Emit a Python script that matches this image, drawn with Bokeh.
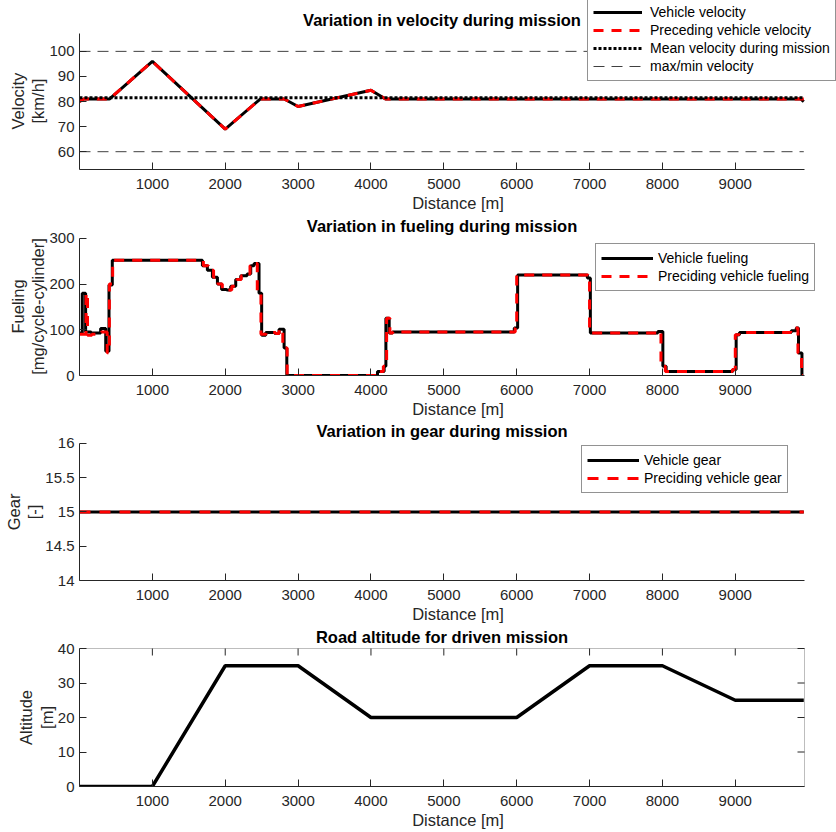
import math

from bokeh.plotting import figure
from bokeh.layouts import column
from bokeh.models import (Legend, LegendItem, FixedTicker, Range1d, Label,
                          BoxAnnotation)
from bokeh.embed import file_html
from bokeh.resources import INLINE

# ---------------- data ----------------
mission_end = 9940
x_max = 9950

# velocity profile [km/h] over distance [m]
vel_dist = [0, 60, 410, 1000, 2000, 2480, 2810, 3000, 4000, 4200, 9900, 9940]
vel_vehicle = [80, 81, 81, 96, 69, 81, 81, 78, 84.5, 81, 81, 80]
vel_preceding = [80, 81, 81, 96, 69, 81, 81, 78, 84.5, 81, 81, 81]
vel_mean = 81.5
vel_max = 100
vel_min = 60

# fueling [mg/cycle-cylinder], held from each breakpoint to the next
fuel_dist = [0, 38, 84, 160, 290, 360, 405, 450, 1687, 1755, 1824, 1893, 1950,
             2020, 2075, 2144, 2213, 2300, 2350, 2396, 2464, 2500, 2556, 2680,
             2739, 2808, 2845, 4090, 4181, 4205, 4250, 4296, 5967, 6013, 6970,
             7011, 7937, 8006, 8051, 8967, 9012, 9058, 9768, 9837, 9868, 9915,
             9930]
fuel_vehicle = [93, 180, 95, 93, 103, 53, 198, 252, 240, 230, 215, 200, 188,
                187, 195, 210, 218, 222, 240, 245, 180, 88, 94, 92,
                101, 60, 0, 9, 20, 125, 93, 95, 104, 220, 213,
                93, 96, 20, 9, 13, 89, 94, 98, 104, 49, 0,
                0]
fuel_preceding_dist = [0, 90, 110, 170, 300, 380, 410, 455, 1700, 1770, 1840,
                       1900, 1960, 2030, 2090, 2160, 2220, 2310, 2340, 2380,
                       2440, 2490, 2560, 2690, 2740, 2790, 2850, 4080, 4170,
                       4215, 4260, 4300, 5980, 6000, 6980, 7000, 7920, 7980,
                       8040, 8960, 9000, 9050, 9760, 9820, 9860, 9910, 9930]
fuel_preceding = [90, 180, 88, 90, 95, 50, 200, 252, 240, 230, 215, 200, 188,
                  187, 195, 210, 218, 222, 240, 245, 180, 90, 94, 92,
                  101, 60, 0, 9, 20, 125, 93, 95, 104, 220, 213,
                  93, 96, 20, 9, 13, 89, 94, 98, 104, 49, 0,
                  0]

# gear over distance
gear_dist = [0, mission_end]
gear_vehicle = [15, 15]
gear_preceding = [15, 15]

# road altitude [m]
alt_dist = [0, 1000, 2000, 3000, 4000, 6000, 7000, 8000, 9000, 9940]
altitude = [0, 0, 35, 35, 20, 20, 35, 35, 25, 25]

x_ticks = [1000, 2000, 3000, 4000, 5000, 6000, 7000, 8000, 9000]
vel_lim = (52.9, 107.2)
vel_ticks = [60, 70, 80, 90, 100]
fuel_lim = (0, 300)
fuel_ticks = [0, 100, 200, 300]
gear_lim = (14, 16)
gear_ticks = [14, 14.5, 15, 15.5, 16]
alt_lim = (0, 40)
alt_ticks = [0, 10, 20, 30, 40]

# ---------------- layout constants ----------------
FONT = "Liberation Sans"
AX = "#262626"
RED = "#ff0000"
W = 836
LEFT = 79            # left edge of the axes
AXES_W = 725         # width of the drawn axes box
PX_PER_M = AXES_W / x_max
# every frame reaches the right and top edges of its figure so that legend
# boxes may stick out past the axes; the axes themselves stop at the limits
X_END_WIDE = (W - LEFT) / PX_PER_M
TITLE_X = AXES_W / 2
TITLE_Y = 150        # title centre, measured up from the x axis
LABEL_SIZE = 16.5
NBSP_W = 0.278 * LABEL_SIZE


def style_axis(ax, standoff):
    ax.axis_line_color = AX
    ax.axis_line_width = 1
    ax.major_tick_line_color = AX
    ax.major_tick_in = 7
    ax.major_tick_out = 0
    ax.minor_tick_line_color = None
    ax.major_label_text_font = FONT
    ax.major_label_text_font_size = "15px"
    ax.major_label_text_color = AX
    ax.major_label_standoff = standoff
    ax.axis_label_text_font = FONT
    ax.axis_label_text_font_size = f"{LABEL_SIZE}px"
    ax.axis_label_text_font_style = "normal"
    ax.axis_label_text_color = AX


def centred_ylabel(lines, top_px):
    # the y label is centred on the whole frame, which includes the strip
    # above the axes; trailing no-break spaces move it back to the axes centre
    pad = "\u00a0" * round(top_px / NBSP_W)
    return "\n".join(line + pad for line in lines)


def make_panel(top_px, axes_px, bottom, y_lim, y_ticks, ylabel, title):
    lo, hi = y_lim
    y_top = hi + top_px * (hi - lo) / axes_px
    p = figure(width=W, height=top_px + axes_px + bottom,
               x_range=Range1d(0, X_END_WIDE), y_range=Range1d(lo, y_top),
               output_backend="svg", toolbar_location=None,
               min_border_left=LEFT, min_border_right=0, min_border_top=0,
               min_border_bottom=bottom, title=None)
    p.outline_line_color = None
    p.grid.visible = False
    p.background_fill_color = "white"
    p.border_fill_color = "white"
    p.xaxis.ticker = FixedTicker(ticks=x_ticks)
    p.yaxis.ticker = FixedTicker(ticks=y_ticks)
    p.xaxis.bounds = (0, x_max)
    p.yaxis.bounds = y_lim
    p.xaxis.axis_label = "Distance [m]"
    p.yaxis.axis_label = centred_ylabel(ylabel, top_px)
    style_axis(p.xaxis[0], 9)
    style_axis(p.yaxis[0], 5)
    p.xaxis.axis_label_standoff = 2
    p.yaxis.axis_label_standoff = -1
    p.yaxis.axis_label_text_line_height = 1.15
    p.add_layout(Label(x=TITLE_X, y=TITLE_Y, x_units="screen",
                       y_units="screen", text=title, text_align="center",
                       text_baseline="middle", text_font=FONT,
                       text_font_size="16.5px", text_font_style="bold",
                       text_color="black"))
    return p


def add_legend(p, items, loc, glyph_width, standoff, padding):
    leg = Legend(items=[LegendItem(label=l, renderers=[r]) for l, r in items],
                 location=loc, orientation="vertical")
    leg.label_text_font = FONT
    leg.label_text_font_size = "14px"
    leg.label_text_color = "black"
    leg.border_line_color = AX
    leg.border_line_width = 1
    leg.background_fill_color = "white"
    leg.background_fill_alpha = 1
    leg.padding = padding
    leg.spacing = 0
    leg.margin = 0
    leg.glyph_width = glyph_width
    leg.glyph_height = 18
    leg.label_height = 18
    leg.label_standoff = standoff
    p.add_layout(leg)


# ---------------- velocity ----------------
p1 = make_panel(33, 137, 44, vel_lim, vel_ticks, ["Velocity", "[km/h]"],
                "Variation in velocity during mission")
r_v = p1.line(vel_dist, vel_vehicle, line_color="black", line_width=3)
r_pv = p1.line(vel_dist, vel_preceding, line_color=RED, line_width=3,
               line_dash="10 8")
r_mean = p1.line([0, mission_end], [vel_mean, vel_mean], line_color="black",
                 line_width=3, line_dash="3 2")
r_lim = p1.line([0, mission_end], [vel_max, vel_max], line_color="#404040",
                line_width=1, line_dash="11 7")
p1.line([0, mission_end], [vel_min, vel_min], line_color="#404040",
        line_width=1, line_dash="11 7")
add_legend(p1, [("Vehicle velocity", r_v),
                ("Preceding vehicle velocity", r_pv),
                ("Mean velocity during mission", r_mean),
                ("max/min velocity", r_lim)], (508, 88), 49, 8, 5)

# ---------------- fueling ----------------
p2 = make_panel(24, 138, 44, fuel_lim, fuel_ticks,
                ["Fueling", "[mg/cycle-cylinder]"],
                "Variation in fueling during mission")
r_f = p2.step(fuel_dist, fuel_vehicle, mode="after", line_color="black",
              line_width=3)
r_pf = p2.step(fuel_preceding_dist, fuel_preceding, mode="after",
               line_color=RED, line_width=3, line_dash="10 8")
add_legend(p2, [("Vehicle fueling", r_f),
                ("Preciding vehicle fueling", r_pf)], (516, 84), 52, 5, 5)

# ---------------- gear ----------------
p3 = make_panel(23, 138, 44, gear_lim, gear_ticks, ["Gear", "[-]"],
                "Variation in gear during mission")
p3.yaxis.major_label_overrides = {14: "14", 15: "15", 16: "16"}
r_g = p3.line(gear_dist, gear_vehicle, line_color="black", line_width=3)
r_pg = p3.line(gear_dist, gear_preceding, line_color=RED, line_width=3,
               line_dash="11 9")
add_legend(p3, [("Vehicle gear", r_g),
                ("Preciding vehicle gear", r_pg)], (502, 87), 52, 5, 5)

# ---------------- altitude (boxed axes) ----------------
p4 = make_panel(23, 138, 46, alt_lim, alt_ticks, ["Altitude", "[m]"],
                "Road altitude for driven mission")
p4.add_layout(BoxAnnotation(left=0, right=x_max, bottom=alt_lim[0],
                            top=alt_lim[1], fill_color=None,
                            line_color=AX, line_width=1))
p4.line(alt_dist, altitude, line_color="black", line_width=3.5)
# mirrored tick marks on the top and right edges of the box
p4.ray(x=x_ticks, y=[alt_lim[1]] * len(x_ticks), length=7,
       length_units="screen", angle=-math.pi / 2, line_color=AX, line_width=1)
p4.ray(x=[x_max] * len(alt_ticks), y=alt_ticks, length=7,
       length_units="screen", angle=math.pi, line_color=AX, line_width=1)

layout = column(p1, p2, p3, p4, spacing=0)

with open("out.html", "w") as f:
    f.write(file_html(layout, INLINE))
